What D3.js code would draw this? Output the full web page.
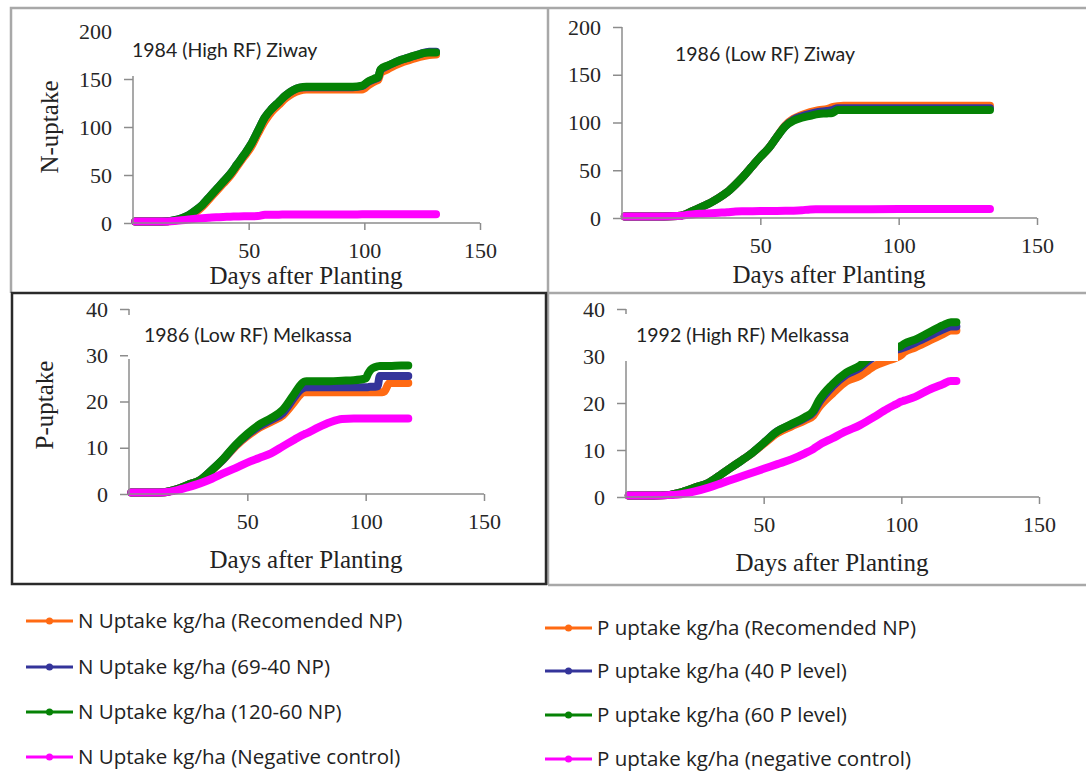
<!DOCTYPE html>
<html>
<head>
<meta charset="utf-8">
<script src="https://cdn.jsdelivr.net/npm/d3@7"></script>
<style>
  body { margin: 0; background: #fff; }
  svg { display: block; }
</style>
</head>
<body>
<svg id="chart" width="1086" height="771"></svg>
<script>
// ---- Data: cumulative uptake (kg/ha) against days after planting ----

// 1984 (High RF) Ziway — N uptake
const days84Z = [1, 5, 10, 15, 18, 21, 24, 27, 30, 33, 36, 39, 42, 45, 48, 51, 54, 57, 60, 63, 66, 69, 72, 75, 80, 85, 90, 95, 99, 102, 105, 106, 107, 110, 113, 116, 120, 124, 128, 131];
const n84Recommended = [1.5, 1.5, 1.5, 1.7, 2.5, 4, 7, 11, 17, 25, 33, 41, 49, 59, 69, 79, 93, 106, 116, 123, 130, 135, 138, 139, 139, 139, 139, 139, 139, 144, 148, 149, 156, 160, 164, 167, 170, 173, 175, 175.5];
const n84Np6940 = [1.5, 1.5, 1.5, 1.8, 3, 5, 8, 13, 19, 27, 35, 43, 51, 61, 71, 82, 96, 110, 119, 126, 133, 138, 141, 141.5, 141.5, 141.5, 141.5, 141.5, 142.5, 147.5, 150.5, 151.5, 159.5, 163.5, 167, 170, 173, 176, 178.5, 178.5];
const n84Np12060 = [1.5, 1.5, 1.5, 1.8, 3, 5, 8, 13, 19, 27, 35, 43, 51, 61, 71, 82, 96, 110, 119, 126, 133, 138, 141, 142, 142, 142, 142, 142, 143, 148, 151, 152, 160, 164, 167, 170, 173, 176, 177.5, 177.5];
const n84Control = [1.5, 1.5, 1.5, 1.6, 2, 2.8, 3.6, 4.4, 5, 5.5, 6, 6.3, 6.5, 6.8, 7, 7.1, 7.2, 8.6, 8.7, 8.7, 8.8, 8.8, 8.8, 8.8, 8.9, 8.9, 8.9, 8.9, 9, 9, 9, 9, 9, 9, 9, 9, 9, 9, 9, 9];

// 1986 (Low RF) Ziway — N uptake
const days86Z = [1, 5, 10, 15, 20, 23, 26, 29, 32, 35, 38, 41, 44, 47, 50, 53, 56, 59, 62, 65, 68, 71, 74, 76, 78, 80, 85, 90, 100, 110, 120, 130, 133];
const n86Recommended = [1.5, 1.5, 1.5, 1.5, 2, 4, 8, 12, 16, 21, 27, 35, 44, 54, 64, 73, 85, 97, 104, 108, 111, 113, 114, 116, 117, 117.5, 117.5, 117.5, 117.5, 117.5, 117.5, 117.5, 117.5];
const n86Np6940 = [1.5, 1.5, 1.5, 1.5, 2, 4, 8, 12, 16, 21, 27, 35, 44, 54, 64, 73, 85, 96, 103, 106.5, 109, 111, 112, 113, 115, 115, 115, 115, 115, 115, 115, 115, 115];
const n86Np12060 = [1.5, 1.5, 1.5, 1.5, 2, 4, 8, 12, 16, 21, 27, 35, 44, 54, 64, 73, 85, 96, 102, 105, 107, 109, 109.5, 110, 113, 113, 113, 113, 113, 113, 113, 113, 113];
const n86Control = [1.5, 1.5, 1.5, 1.5, 2, 3, 4, 4.5, 5, 5.5, 6, 6.8, 7, 7.1, 7.2, 7.3, 7.4, 7.5, 7.6, 8, 9, 9.1, 9.2, 9.2, 9.2, 9.2, 9.2, 9.2, 9.3, 9.3, 9.3, 9.3, 9.3];

// 1986 (Low RF) Melkassa — P uptake
const days86M = [1, 5, 10, 15, 20, 25, 30, 35, 40, 45, 50, 55, 60, 65, 70, 72, 74, 75, 80, 85, 90, 95, 100, 101, 102, 103, 105, 106, 107, 108, 110, 115, 118];
const p86Recommended = [0.3, 0.3, 0.3, 0.4, 1, 2, 3, 5.1, 7.5, 10.3, 12.5, 14.3, 15.6, 17, 20, 21.3, 22, 22, 22, 22, 22, 22, 22, 22, 22, 22, 22, 22, 22, 22.2, 24, 24, 24];
const p86P40 = [0.3, 0.3, 0.3, 0.4, 1, 2, 3, 5.2, 7.6, 10.5, 12.8, 14.6, 16, 17.5, 21, 22.3, 23, 23.1, 23.1, 23.1, 23.1, 23.1, 23.1, 23.1, 23.2, 23.2, 23.3, 25.5, 25.5, 25.5, 25.5, 25.5, 25.5];
const p86P60 = [0.3, 0.3, 0.3, 0.4, 1, 2, 3, 5.2, 7.7, 10.6, 13, 15, 16.4, 18.2, 21.8, 23.3, 24.3, 24.4, 24.4, 24.4, 24.5, 24.6, 25, 26, 26.8, 27.2, 27.6, 27.7, 27.7, 27.7, 27.7, 27.8, 27.8];
const p86Control = [0.3, 0.3, 0.3, 0.4, 0.8, 1.5, 2.3, 3.3, 4.5, 5.6, 6.8, 7.8, 8.8, 10.3, 11.8, 12.4, 12.9, 13.1, 14.4, 15.5, 16.2, 16.3, 16.3, 16.3, 16.3, 16.3, 16.3, 16.3, 16.3, 16.3, 16.3, 16.3, 16.3];

// 1992 (High RF) Melkassa — P uptake
const days92M = [1, 5, 10, 15, 20, 25, 30, 35, 40, 45, 50, 55, 60, 65, 68, 70, 75, 80, 85, 88, 90, 95, 98, 100, 101, 105, 110, 115, 118, 120];
const p92Recommended = [0.3, 0.3, 0.3, 0.4, 1, 2, 3, 5, 7, 9, 11.3, 13.6, 15, 16.3, 17.3, 19, 22, 24.6, 25.8, 27, 27.8, 29, 29.6, 30.2, 30.8, 31.8, 33.2, 34.6, 35.4, 35.4];
const p92P40 = [0.3, 0.3, 0.3, 0.4, 1, 2, 3, 5, 7, 9, 11.5, 14, 15.4, 16.8, 18, 20, 23.5, 26, 27.5, 29, 29.8, 30.8, 31.3, 31.6, 31.8, 32.8, 34.2, 35.6, 36.3, 36.3];
const p92P60 = [0.3, 0.3, 0.3, 0.4, 1, 2, 3, 5, 7, 9, 11.5, 14, 15.5, 17, 18.3, 20.5, 24, 26.5, 28, 29.5, 30.3, 31.2, 31.8, 32.2, 32.6, 33.5, 35, 36.5, 37.2, 37.2];
const p92Control = [0.3, 0.3, 0.3, 0.4, 0.6, 1.2, 2, 3, 4, 5, 6, 7, 8, 9.3, 10.2, 11, 12.5, 14, 15.3, 16.3, 17, 18.8, 19.7, 20.3, 20.5, 21.3, 22.8, 24, 24.7, 24.7];

// Axis ticks and labels
const xTickValues = [50, 100, 150];
const nTickValues = [0, 50, 100, 150, 200];
const pTickValues = [0, 10, 20, 30, 40];
const xAxisTitle = "Days after Planting";

// Legend text
const nLegend = [
  "N Uptake kg/ha (Recomended NP)",
  "N Uptake kg/ha (69-40 NP)",
  "N Uptake kg/ha (120-60 NP)",
  "N Uptake kg/ha (Negative control)"
];
const pLegend = [
  "P uptake kg/ha (Recomended NP)",
  "P uptake kg/ha (40 P level)",
  "P uptake kg/ha (60 P level)",
  "P uptake kg/ha (negative control)"
];

const seriesColors = ["#FF6A13", "#34349A", "#058205", "#FF00FF"];

// ---- Panel layout ----
const panels = [
  {
    title: "1984 (High RF) Ziway", yTitle: "N-uptake",
    days: days84Z, series: [n84Recommended, n84Np6940, n84Np12060, n84Control],
    yMax: 200, yTicks: nTickValues,
    xr: [133, 480], yr: [223, 31],
    titlePos: [132, 57], cover: [121, 22, 220, 54],
    yTitlePos: [58, 127], xTitlePos: [306, 284]
  },
  {
    title: "1986 (Low RF) Ziway", yTitle: null,
    days: days86Z, series: [n86Recommended, n86Np6940, n86Np12060, n86Control],
    yMax: 200, yTicks: nTickValues,
    xr: [622, 1037], yr: [218, 27],
    titlePos: [675, 61], cover: null,
    yTitlePos: null, xTitlePos: [829, 283]
  },
  {
    title: "1986 (Low RF) Melkassa", yTitle: "P-uptake",
    days: days86M, series: [p86Recommended, p86P40, p86P60, p86Control],
    yMax: 40, yTicks: pTickValues,
    xr: [129, 484], yr: [494, 309],
    titlePos: [144, 342], cover: [128, 315, 252, 44],
    yTitlePos: [53, 405], xTitlePos: [306, 568]
  },
  {
    title: "1992 (High RF) Melkassa", yTitle: null,
    days: days92M, series: [p92Recommended, p92P40, p92P60, p92Control],
    yMax: 40, yTicks: pTickValues,
    xr: [626, 1039], yr: [497, 309],
    titlePos: [636, 342], cover: [615, 314, 283, 47],
    yTitlePos: null, xTitlePos: [832, 571]
  }
];

const svg = d3.select("#chart");
svg.append("rect").attr("width", 1086).attr("height", 771).attr("fill", "#fff");

const serif = "'Liberation Serif', 'Times New Roman', serif";
const titleFont = "Lato, 'Open Sans', sans-serif";
const legendFont = "'Open Sans', Lato, sans-serif";
const axisGrey = "#8c8c8c";

panels.forEach(p => {
  const x = d3.scaleLinear().domain([0, 150]).range(p.xr);
  const y = d3.scaleLinear().domain([0, p.yMax]).range(p.yr);
  const g = svg.append("g");

  // series lines (dense markers merge into a thick band)
  const line = d3.line()
    .x((d, i) => x(p.days[i]))
    .y(d => y(d))
    .curve(d3.curveMonotoneX);

  p.series.forEach((vals, k) => {
    g.append("path")
      .datum(vals)
      .attr("d", line)
      .attr("fill", "none")
      .attr("stroke", seriesColors[k])
      .attr("stroke-width", 8)
      .attr("stroke-linecap", "round")
      .attr("stroke-linejoin", "round");
  });

  // axes
  const yAxis = d3.axisLeft(y).tickValues(p.yTicks).tickSize(9).tickPadding(12).tickFormat(d3.format("d"));
  const xAxis = d3.axisBottom(x).tickValues(xTickValues).tickSize(7).tickPadding(12).tickFormat(d3.format("d"));

  const gy = g.append("g").attr("transform", `translate(${p.xr[0]},0)`).call(yAxis);
  const gx = g.append("g").attr("transform", `translate(0,${p.yr[0]})`).call(xAxis);

  [gx, gy].forEach(ax => {
    ax.select(".domain").attr("stroke", axisGrey).attr("stroke-width", 1.5);
    ax.selectAll(".tick line").attr("stroke", axisGrey).attr("stroke-width", 1.5);
    ax.selectAll(".tick text")
      .attr("fill", "#262626")
      .style("font-family", serif)
      .style("font-size", "22px");
  });
  gx.select(".domain").attr("d", `M${p.xr[0]},0H${p.xr[1]}`);
  gy.select(".domain").attr("d", `M0,${p.yr[0]}V${p.yr[1]}`);

  // white title box sits above the plot, hiding what lies beneath it
  if (p.cover) {
    g.append("rect")
      .attr("x", p.cover[0]).attr("y", p.cover[1])
      .attr("width", p.cover[2]).attr("height", p.cover[3])
      .attr("fill", "#fff");
  }
  g.append("text")
    .attr("x", p.titlePos[0]).attr("y", p.titlePos[1])
    .attr("fill", "#222")
    .style("font-family", titleFont)
    .style("font-size", "19.5px")
    .text(p.title);

  // axis titles
  g.append("text")
    .attr("x", p.xTitlePos[0]).attr("y", p.xTitlePos[1])
    .attr("text-anchor", "middle")
    .attr("fill", "#222")
    .style("font-family", serif)
    .style("font-size", "25px")
    .text(xAxisTitle);

  if (p.yTitle) {
    g.append("text")
      .attr("transform", `translate(${p.yTitlePos[0]},${p.yTitlePos[1]}) rotate(-90)`)
      .attr("text-anchor", "middle")
      .attr("fill", "#222")
      .style("font-family", serif)
      .style("font-size", "25px")
      .text(p.yTitle);
  }
});

// ---- Panel frames ----
svg.append("path")
  .attr("d", "M11,293V8H1086M548,8V585M548,293H1086M548,585H1086")
  .attr("fill", "none").attr("stroke", "#a8a8a8").attr("stroke-width", 2.5);
svg.append("rect")
  .attr("x", 12).attr("y", 293).attr("width", 534).attr("height", 291)
  .attr("fill", "none").attr("stroke", "#2a2a2a").attr("stroke-width", 2.5);

// ---- Legend ----
function drawLegend(labels, x0, rowsY) {
  const lg = svg.append("g");
  labels.forEach((label, k) => {
    const cy = rowsY[k];
    lg.append("line")
      .attr("x1", x0).attr("x2", x0 + 47).attr("y1", cy).attr("y2", cy)
      .attr("stroke", seriesColors[k]).attr("stroke-width", 3);
    lg.append("circle")
      .attr("cx", x0 + 23.5).attr("cy", cy).attr("r", 3.5)
      .attr("fill", seriesColors[k]);
    lg.append("text")
      .attr("x", x0 + 52).attr("y", cy + 7)
      .attr("fill", "#222")
      .style("font-family", legendFont)
      .style("font-size", "20.5px")
      .text(label);
  });
}
drawLegend(nLegend, 26, [621, 667, 712, 757]);
drawLegend(pLegend, 545, [628, 671, 715, 759]);
</script>
</body>
</html>
